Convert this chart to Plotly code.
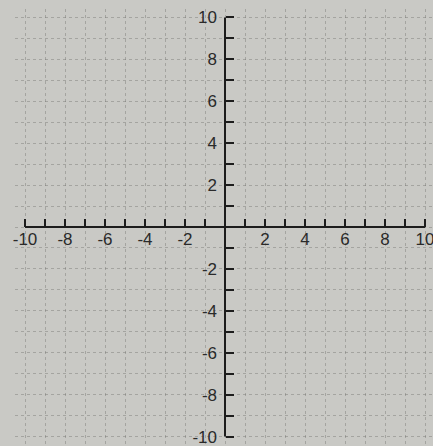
import plotly.graph_objects as go

# grid goes from -10 to 10 on both axes, ticks every unit, labels every 2
tick_vals = list(range(-10, 11))
tick_text = [str(v) if v % 2 == 0 and v != 0 else "" for v in tick_vals]
axis_extent = [-10, 10]
origin = [0, 0]
x_range = [-10.5, 10.4]
y_range = [-10.4, 10.4]

fig = go.Figure()
# the two number lines through the origin
fig.add_trace(go.Scatter(x=axis_extent, y=origin, mode="lines",
                         line=dict(color="#1c1c1c", width=2),
                         hoverinfo="skip", showlegend=False))
fig.add_trace(go.Scatter(x=origin, y=axis_extent, mode="lines",
                         line=dict(color="#1c1c1c", width=2),
                         hoverinfo="skip", showlegend=False))

axis_common = dict(
    tickmode="array",
    tickvals=tick_vals,
    ticktext=tick_text,
    ticks="inside",
    ticklen=8,
    tickwidth=1.5,
    tickcolor="#1c1c1c",
    showline=False,
    showgrid=True,
    gridcolor="rgba(120,120,115,0.45)",
    griddash="dot",
    gridwidth=1,
    zeroline=False,
    anchor="free",
    automargin=False,
    fixedrange=True,
    ticklabeloverflow="allow",
    tickfont=dict(family="Liberation Sans, Arial", size=17, color="#2a2a2a"),
)

fig.update_xaxes(range=x_range,
                 position=(0 - y_range[0]) / (y_range[1] - y_range[0]),
                 **axis_common)
fig.update_yaxes(range=y_range,
                 position=(0 - x_range[0]) / (x_range[1] - x_range[0]),
                 ticklabelstandoff=8, **axis_common)

fig.update_layout(
    width=433, height=446,
    autosize=False,
    margin=dict(l=15, r=0, t=9, b=1, pad=0),
    paper_bgcolor="#c9c9c5",
    plot_bgcolor="#c9c9c5",
)

# page has a default body margin, drop it so the figure sits at 0,0
fig.write_html("out.html",
               config={"displayModeBar": False},
               post_script="document.body.style.margin='0';document.body.style.background='#c9c9c5';")
